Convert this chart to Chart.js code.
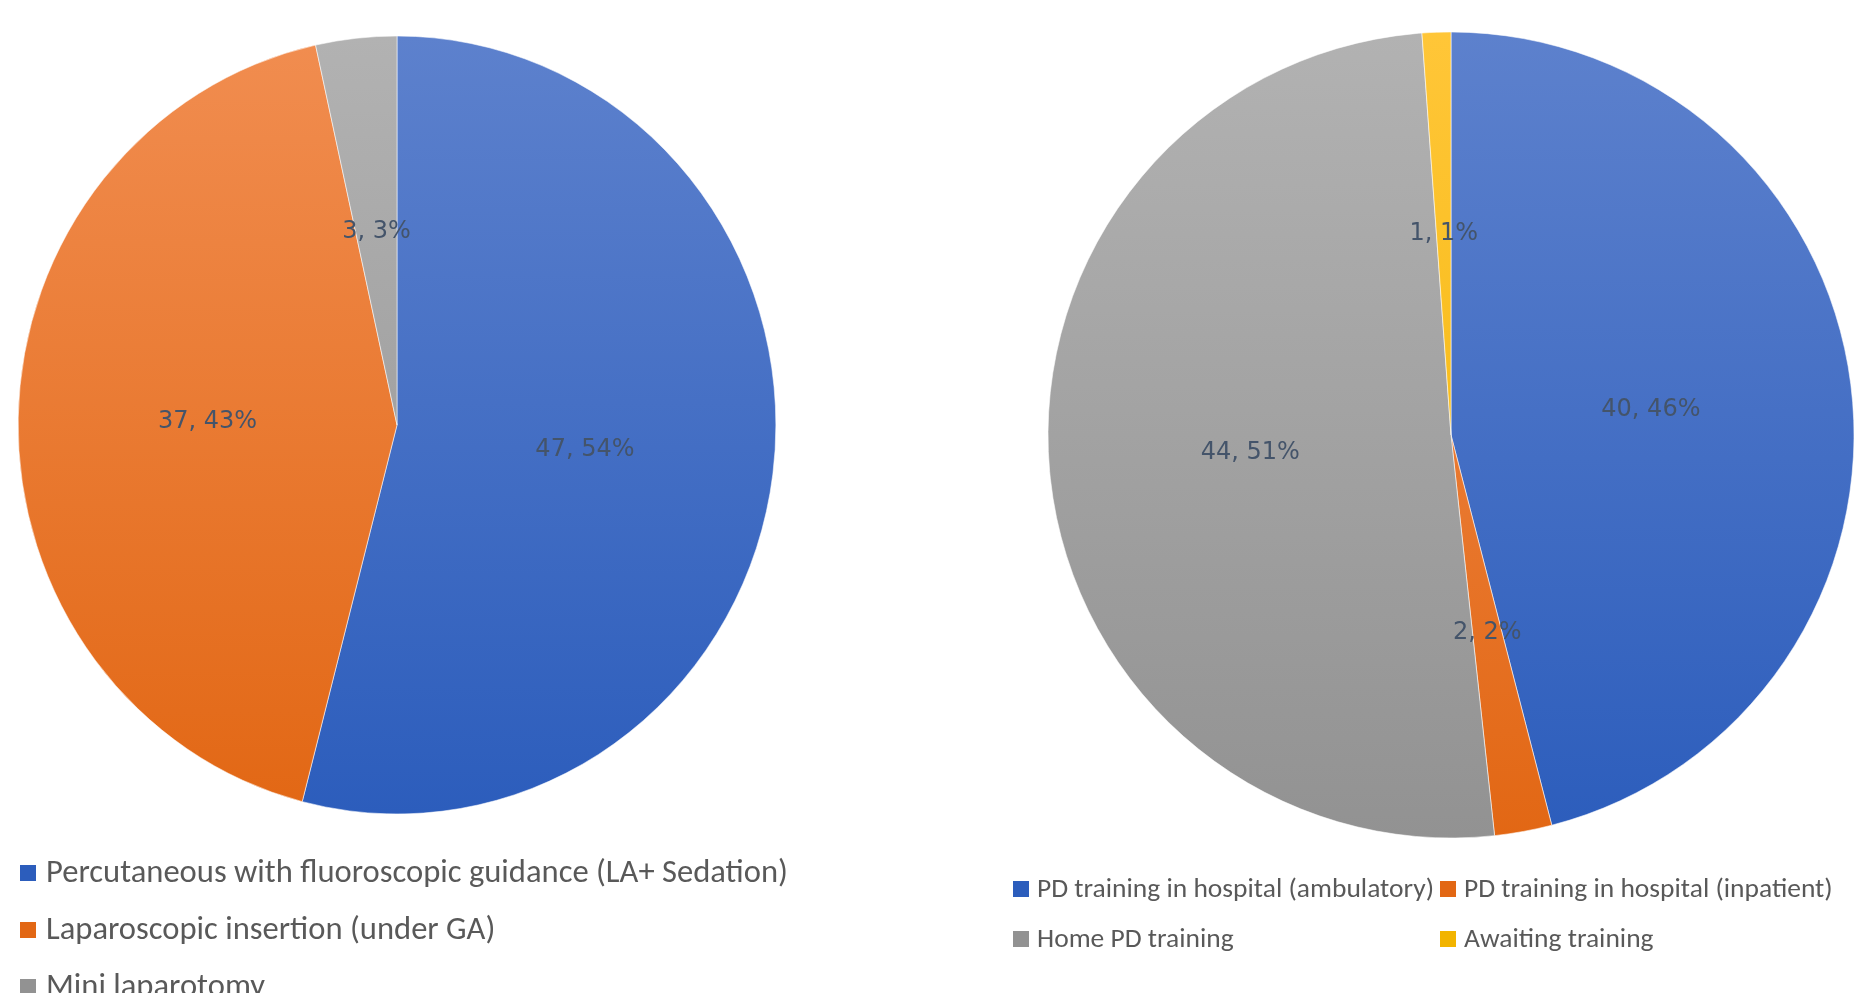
<!DOCTYPE html>
<html>
<head>
<meta charset="utf-8">
<script src="https://cdn.jsdelivr.net/npm/chart.js@4.4.1/dist/chart.umd.min.js"></script>
<style>
  html, body { margin: 0; padding: 0; background: #ffffff; width: 1868px; height: 993px; overflow: hidden; }
  .caja { position: absolute; top: 0; height: 993px; }
  #cajaIzq { left: 0; width: 830px; }
  #cajaDer { left: 1000px; width: 868px; }
</style>
</head>
<body>
<div class="caja" id="cajaIzq"><canvas id="chartInsercion"></canvas></div>
<div class="caja" id="cajaDer"><canvas id="chartEntrenamiento"></canvas></div>
<script>
// ── DATOS ────────────────────────────────────────────────
const insercionLabels = [
    'Percutaneous with fluoroscopic guidance (LA+ Sedation)',
    'Laparoscopic insertion (under GA)',
    'Mini laparotomy'
];
const insercionValores = [47, 37, 3];

const entrenamientoLabels = [
    'PD training in hospital (ambulatory)',
    'PD training in hospital (inpatient)',
    'Home PD training',
    'Awaiting training'
];
const entrenamientoValores = [40, 2, 44, 1];

// colores (arriba / abajo del degradado)
const azul     = ['rgb(93,129,205)',  'rgb(44,93,188)'];
const naranja  = ['rgb(241,141,80)', 'rgb(226,103,20)'];
const gris     = ['rgb(178,178,178)', 'rgb(146,146,146)'];
const amarillo = ['rgb(255,198,56)',  'rgb(242,180,0)'];

function degradado(paleta) {
    return (ctx) => {
        const chart = ctx.chart;
        const area = chart.chartArea;
        const par = paleta[ctx.dataIndex];
        if (!area) return par[0];
        const r = chart.data.datasets[0].radius;
        const cy = (area.top + area.bottom) / 2;
        const g = chart.ctx.createLinearGradient(0, cy - r, 0, cy + r);
        g.addColorStop(0, par[0]);
        g.addColorStop(1, par[1]);
        return g;
    };
}

// achatado horizontal del pastel + etiquetas "valor, %"
const etiquetasPlugin = {
    id: 'etiquetas',
    beforeDatasetsDraw(chart, args, opts) {
        const c = chart.ctx, a = chart.chartArea;
        const cx = (a.left + a.right) / 2, cy = (a.top + a.bottom) / 2;
        c.save();
        c.translate(cx, cy);
        c.scale(opts.escalaX || 1, 1);
        c.translate(-cx, -cy);
    },
    afterDatasetsDraw(chart, args, opts) {
        const c = chart.ctx, a = chart.chartArea;
        c.restore();
        const cx = (a.left + a.right) / 2;
        const sx = opts.escalaX || 1;
        const vals = chart.data.datasets[0].data;
        const total = vals.reduce((x, y) => x + y, 0);
        c.save();
        c.font = '24px "DejaVu Sans", Verdana, sans-serif';
        c.fillStyle = '#44546a';
        c.textAlign = 'center';
        c.textBaseline = 'middle';
        chart.getDatasetMeta(0).data.forEach((arc, i) => {
            const p = arc.tooltipPosition();
            c.fillText(`${vals[i]}, ${Math.round(vals[i] / total * 100)}%`, cx + (p.x - cx) * sx, p.y);
        });
        c.restore();
    }
};

// leyenda estilo Excel (rejilla)
const leyendaPlugin = {
    id: 'leyendaExcel',
    afterDraw(chart, args, opts) {
        const c = chart.ctx;
        c.save();
        c.font = opts.fuente;
        c.textBaseline = 'middle';
        chart.data.labels.forEach((txt, i) => {
            const col = i % opts.cols, fila = Math.floor(i / opts.cols);
            const x = opts.x + col * opts.anchoCol;
            const y = opts.y + fila * opts.altoFila;
            c.fillStyle = opts.colores[i];
            c.fillRect(x, y - 8, 16, 16);
            c.fillStyle = '#595959';
            c.fillText(txt, x + 16 + opts.gap, y + 1);
        });
        c.restore();
    }
};

function crearPie(id, labels, valores, paleta, radio, escalaX, padding, leyenda) {
    return new Chart(document.getElementById(id), {
        type: 'pie',
        data: {
            labels,
            datasets: [{
                data: valores,
                radius: radio,
                backgroundColor: degradado(paleta),
                borderColor: 'rgba(255,255,255,0.55)',
                borderWidth: 1
            }]
        },
        options: {
            responsive: true,
            maintainAspectRatio: false,
            animation: false,
            layout: { padding },
            plugins: {
                legend: { display: false },
                tooltip: { enabled: false },
                etiquetas: { escalaX },
                leyendaExcel: leyenda
            }
        },
        plugins: [etiquetasPlugin, leyendaPlugin]
    });
}

crearPie('chartInsercion', insercionLabels, insercionValores,
    [azul, naranja, gris], 389, 0.974,
    { left: 0, right: 36, top: 0, bottom: 143 },
    { x: 20, y: 873, cols: 1, anchoCol: 0, altoFila: 57, gap: 10,
      fuente: '32.6px Carlito, "Liberation Sans Narrow", Roboto, sans-serif',
      colores: [azul[1], naranja[1], gris[1]] });

crearPie('chartEntrenamiento', entrenamientoLabels, entrenamientoValores,
    [azul, naranja, gris, amarillo], 403, 1,
    { left: 34, right: 0, top: 0, bottom: 123 },
    { x: 13, y: 889, cols: 2, anchoCol: 427, altoFila: 50, gap: 8,
      fuente: '27.5px Carlito, "Liberation Sans Narrow", Roboto, sans-serif',
      colores: [azul[1], naranja[1], gris[1], amarillo[1]] });
</script>
</body>
</html>
